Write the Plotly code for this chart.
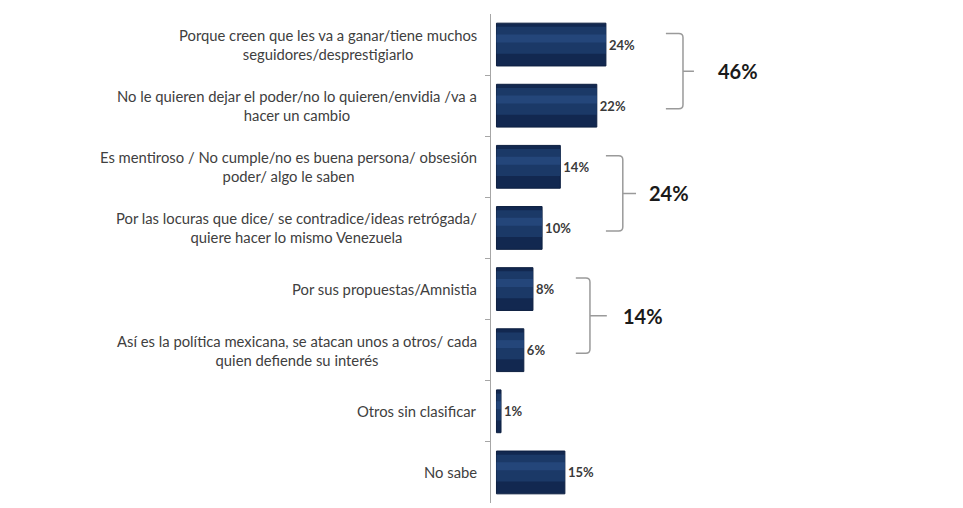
import plotly.graph_objects as go

categories = [
    "Porque creen que les va a ganar/tiene muchos<br>seguidores/desprestigiarlo",
    "No le quieren dejar el poder/no lo quieren/envidia /va a<br>hacer un cambio",
    "Es mentiroso / No cumple/no es buena persona/ obsesión<br>poder/ algo le saben",
    "Por las locuras que dice/ se contradice/ideas retrógada/<br>quiere hacer lo mismo Venezuela",
    "Por sus propuestas/Amnistia",
    "Así es la política mexicana, se atacan unos a otros/ cada<br>quien defiende su interés",
    "Otros sin clasificar",
    "No sabe",
]
values = [24, 22, 14, 10, 8, 6, 1, 15]
value_labels = ["24%", "22%", "14%", "10%", "8%", "6%", "1%", "15%"]

group_members = [[0, 1], [2, 3], [4, 5]]
group_labels = ["46%", "24%", "14%"]

# layout constants: bracket geometry per group (arm start, spine, tip end, label x) in axis units
bracket_x = [(37.15, 40.9, 43.3, 48.1), (24.0, 27.7, 30.6, 33.0), (17.4, 20.5, 24.2, 27.2)]
rx, ry = 0.9, 0.065

n = len(categories)
pos = list(range(n))

fig = go.Figure()

fig.add_trace(go.Bar(
    x=values, y=pos, orientation="h",
    marker=dict(color="#122850", line=dict(color="#0d1f40", width=1)),
    width=0.7,
    text=value_labels, textposition="outside",
    textfont=dict(family="Lato", size=13, color="#3a3a3a", weight="bold"),
    cliponaxis=False, hoverinfo="skip",
))
fig.add_trace(go.Bar(
    x=values, y=[p - 0.07 for p in pos], orientation="h",
    marker=dict(color="#1b3967", line=dict(width=0)),
    width=0.44, hoverinfo="skip",
))
fig.add_trace(go.Bar(
    x=values, y=[p - 0.1 for p in pos], orientation="h",
    marker=dict(color="#24467a", line=dict(width=0)),
    width=0.13, hoverinfo="skip",
))

annotations = []
for i, c in enumerate(categories):
    annotations.append(dict(
        x=0, xref="paper", xanchor="right", xshift=-12,
        y=i, yref="y", yanchor="middle",
        text=c, showarrow=False, align="center",
        font=dict(family="Lato", size=14.8, color="#404040"),
    ))

shapes = []
for g, members in enumerate(group_members):
    x0, x1, xt, xl = bracket_x[g]
    yt = members[0] - 0.18
    yb = members[-1] + 0.05
    ym = (yt + yb) / 2
    path = (
        f"M {x0},{yt} L {x1 - rx},{yt} Q {x1},{yt} {x1},{yt + ry} "
        f"L {x1},{yb - ry} Q {x1},{yb} {x1 - rx},{yb} L {x0},{yb} "
        f"M {x1},{ym} L {xt},{ym}"
    )
    shapes.append(dict(type="path", xref="x", yref="y", path=path,
                       line=dict(color="#9a9a9a", width=1.5)))
    annotations.append(dict(
        x=xl, xref="x", xanchor="left",
        y=ym, yref="y", yanchor="middle",
        text=f"<b>{group_labels[g]}</b>", showarrow=False,
        font=dict(family="Lato", size=20, color="#1a1a1a"),
    ))

fig.update_layout(
    width=963, height=508,
    margin=dict(l=491, r=0, t=14, b=5),
    paper_bgcolor="white", plot_bgcolor="rgba(0,0,0,0)",
    barmode="overlay", bargap=0.3,
    showlegend=False,
    annotations=annotations, shapes=shapes,
    xaxis=dict(range=[-1.2, 102.3], showgrid=False, zeroline=False,
               showticklabels=False, showline=False),
    yaxis=dict(range=[n - 0.5, -0.5], showgrid=False, zeroline=False,
               showticklabels=False, showline=True, linecolor="#a6a6a6",
               linewidth=1.2, ticks="outside", ticklen=5, tickcolor="#a6a6a6",
               tickvals=[i + 0.5 for i in range(n - 1)]),
)

fig.write_html("out.html")
